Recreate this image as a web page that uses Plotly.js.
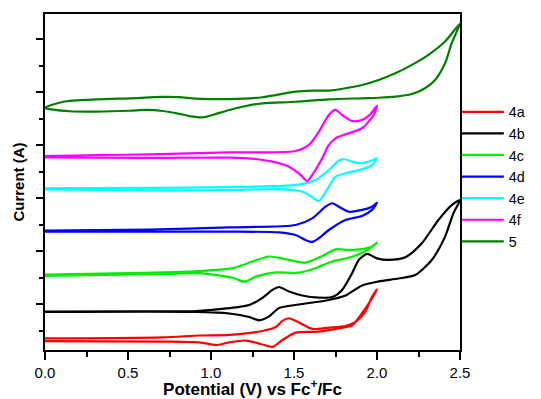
<!DOCTYPE html>
<html><head><meta charset="utf-8">
<script src="https://cdn.plot.ly/plotly-3.0.1.min.js"></script>
<style>html,body{margin:0;padding:0;background:#fff}</style>
</head><body><div id="chart" style="width:541px;height:399px"></div>
<script>
// Potential (V vs Fc+/Fc) and current (arbitrary offset units), forward then reverse scan
const names = ['4a', '4b', '4c', '4d', '4e', '4f', '5'];
const colors = ['#ff0000', '#000000', '#00ee00', '#0000ff', '#00ffff', '#ff00ff', '#008000'];

const v4a = [0, 0.71, 0.93, 1.11, 1.31, 1.39, 1.43, 1.47, 1.53, 1.61, 1.71, 1.81, 1.87, 1.93, 1.97, 2.0, 1.97, 1.91, 1.85, 1.77, 1.63, 1.51, 1.43, 1.37, 1.30, 1.21, 1.11, 1.03, 0.93, 0.71, 0];
const i4a = [0.72, 0.76, 0.83, 0.85, 1.00, 1.15, 1.38, 1.48, 1.32, 1.08, 1.13, 1.19, 1.34, 1.73, 2.29, 2.57, 2.23, 1.67, 1.21, 1.10, 0.97, 0.94, 0.66, 0.40, 0.51, 0.64, 0.57, 0.47, 0.57, 0.60, 0.62];

const v4b = [0, 0.51, 0.91, 1.11, 1.23, 1.31, 1.37, 1.41, 1.47, 1.55, 1.65, 1.73, 1.79, 1.85, 1.89, 1.94, 2.0, 2.07, 2.17, 2.27, 2.37, 2.45, 2.5, 2.46, 2.41, 2.33, 2.23, 2.13, 2.01, 1.91, 1.81, 1.71, 1.53, 1.41, 1.35, 1.29, 1.23, 1.11, 0.91, 0];
const i4b = [1.73, 1.74, 1.75, 1.86, 1.98, 2.25, 2.55, 2.66, 2.49, 2.34, 2.26, 2.28, 2.55, 3.18, 3.68, 3.91, 3.74, 3.68, 3.78, 4.31, 5.19, 5.75, 5.94, 5.44, 4.56, 3.68, 3.11, 2.98, 2.87, 2.72, 2.34, 2.17, 2.00, 1.87, 1.55, 1.40, 1.53, 1.66, 1.72, 1.72];

const v4c = [0, 0.51, 0.93, 1.13, 1.25, 1.35, 1.45, 1.57, 1.67, 1.75, 1.83, 1.91, 1.97, 2.0, 1.95, 1.85, 1.73, 1.63, 1.53, 1.39, 1.27, 1.20, 1.13, 0.93, 0.71, 0];
const i4c = [3.13, 3.18, 3.26, 3.37, 3.62, 3.81, 3.71, 3.58, 3.83, 4.08, 4.06, 4.09, 4.19, 4.33, 4.08, 3.80, 3.62, 3.37, 3.20, 3.21, 3.05, 2.86, 3.01, 3.18, 3.15, 3.08];

const v4d = [0, 0.63, 1.11, 1.51, 1.61, 1.69, 1.73, 1.77, 1.83, 1.91, 1.97, 2.0, 1.97, 1.91, 1.81, 1.71, 1.65, 1.61, 1.57, 1.51, 1.41, 1.11, 0.63, 0];
const i4d = [4.79, 4.83, 4.91, 5.00, 5.25, 5.69, 5.82, 5.69, 5.50, 5.57, 5.69, 5.84, 5.57, 5.34, 5.19, 4.81, 4.50, 4.36, 4.43, 4.62, 4.72, 4.75, 4.75, 4.75];

const v4e = [0, 0.63, 1.11, 1.51, 1.63, 1.71, 1.77, 1.80, 1.85, 1.91, 1.97, 2.0, 1.97, 1.91, 1.81, 1.75, 1.71, 1.65, 1.61, 1.55, 1.41, 1.11, 0.63, 0];
const i4e = [6.38, 6.40, 6.43, 6.51, 6.70, 7.08, 7.43, 7.49, 7.39, 7.33, 7.43, 7.52, 7.26, 7.10, 6.95, 6.82, 6.45, 5.90, 6.05, 6.26, 6.35, 6.32, 6.30, 6.34];

const v4f = [0, 0.33, 0.63, 1.11, 1.31, 1.51, 1.59, 1.65, 1.71, 1.75, 1.79, 1.85, 1.91, 1.96, 2.0, 1.98, 1.91, 1.81, 1.75, 1.71, 1.67, 1.61, 1.58, 1.54, 1.47, 1.37, 1.27, 1.11, 0.63, 0];
const i4f = [7.60, 7.64, 7.66, 7.74, 7.74, 7.79, 8.02, 8.52, 9.15, 9.34, 9.15, 8.92, 8.96, 9.18, 9.50, 9.15, 8.65, 8.42, 8.27, 8.02, 7.52, 6.89, 6.66, 6.89, 7.20, 7.39, 7.49, 7.54, 7.53, 7.55];

const v5 = [0, 0.11, 0.31, 0.51, 0.71, 0.81, 0.91, 1.11, 1.31, 1.51, 1.61, 1.71, 1.81, 1.91, 2.01, 2.11, 2.21, 2.31, 2.41, 2.5,
            2.45, 2.41, 2.35, 2.27, 2.21, 2.11, 2.01, 1.91, 1.71, 1.51, 1.31, 1.21, 1.11, 1.01, 0.95, 0.87, 0.81, 0.71, 0.61, 0.51, 0.31, 0.15, 0];
const i5 = [9.42, 9.65, 9.74, 9.78, 9.83, 9.82, 9.77, 9.75, 9.82, 10.03, 10.07, 10.07, 10.16, 10.28, 10.47, 10.72, 11.04, 11.42, 11.92, 12.6,
            11.86, 11.10, 10.47, 10.09, 9.94, 9.84, 9.80, 9.78, 9.74, 9.65, 9.59, 9.49, 9.34, 9.15, 9.06, 9.11, 9.19, 9.30, 9.34, 9.31, 9.28, 9.29, 9.42];

const xs = [v4a, v4b, v4c, v4d, v4e, v4f, v5];
const ys = [i4a, i4b, i4c, i4d, i4e, i4f, i5];

const traces = names.map((n, k) => ({
  x: xs[k], y: ys[k], name: n, type: 'scatter', mode: 'lines',
  line: {color: colors[k], width: 2.2, shape: 'spline', smoothing: 0.7}
}));

const font = 'Liberation Sans, Arial, sans-serif';
const layout = {
  width: 541, height: 399,
  margin: {l: 45, r: 80, t: 14, b: 49},
  paper_bgcolor: '#fff', plot_bgcolor: '#fff',
  font: {family: font, color: '#000'},
  showlegend: true,
  legend: {x: 0.99, xanchor: 'left', y: 0.756, yanchor: 'top', font: {size: 14.3, family: font},
           itemwidth: 42, bgcolor: 'rgba(0,0,0,0)', borderwidth: 0},
  xaxis: {
    range: [0, 2.5], tick0: 0, dtick: 0.5, tickformat: '.1f',
    ticks: 'outside', ticklen: 8, tickwidth: 2, tickcolor: '#000',
    minor: {dtick: 0.25, ticks: 'outside', ticklen: 5, tickwidth: 2, tickcolor: '#000', showgrid: false},
    showline: true, linewidth: 2, linecolor: '#000', mirror: true,
    showgrid: false, zeroline: false, tickfont: {size: 15},
    title: {text: '<b>Potential (V) vs Fc<sup>+</sup>/Fc</b>', font: {size: 17}, standoff: 13}
  },
  yaxis: {
    range: [0.283, 12.96], tick0: 0, dtick: 2,
    ticks: 'outside', ticklen: 7, tickwidth: 2, tickcolor: '#000',
    minor: {dtick: 1, ticks: 'outside', ticklen: 4, tickwidth: 2, tickcolor: '#000', showgrid: false},
    showline: true, linewidth: 2, linecolor: '#000', mirror: true,
    showgrid: false, zeroline: false, showticklabels: false,
    title: {text: '<b>Current (A)</b>', font: {size: 15}, standoff: 8}
  }
};
Plotly.newPlot('chart', traces, layout, {displayModeBar: false, staticPlot: true});
</script></body></html>
